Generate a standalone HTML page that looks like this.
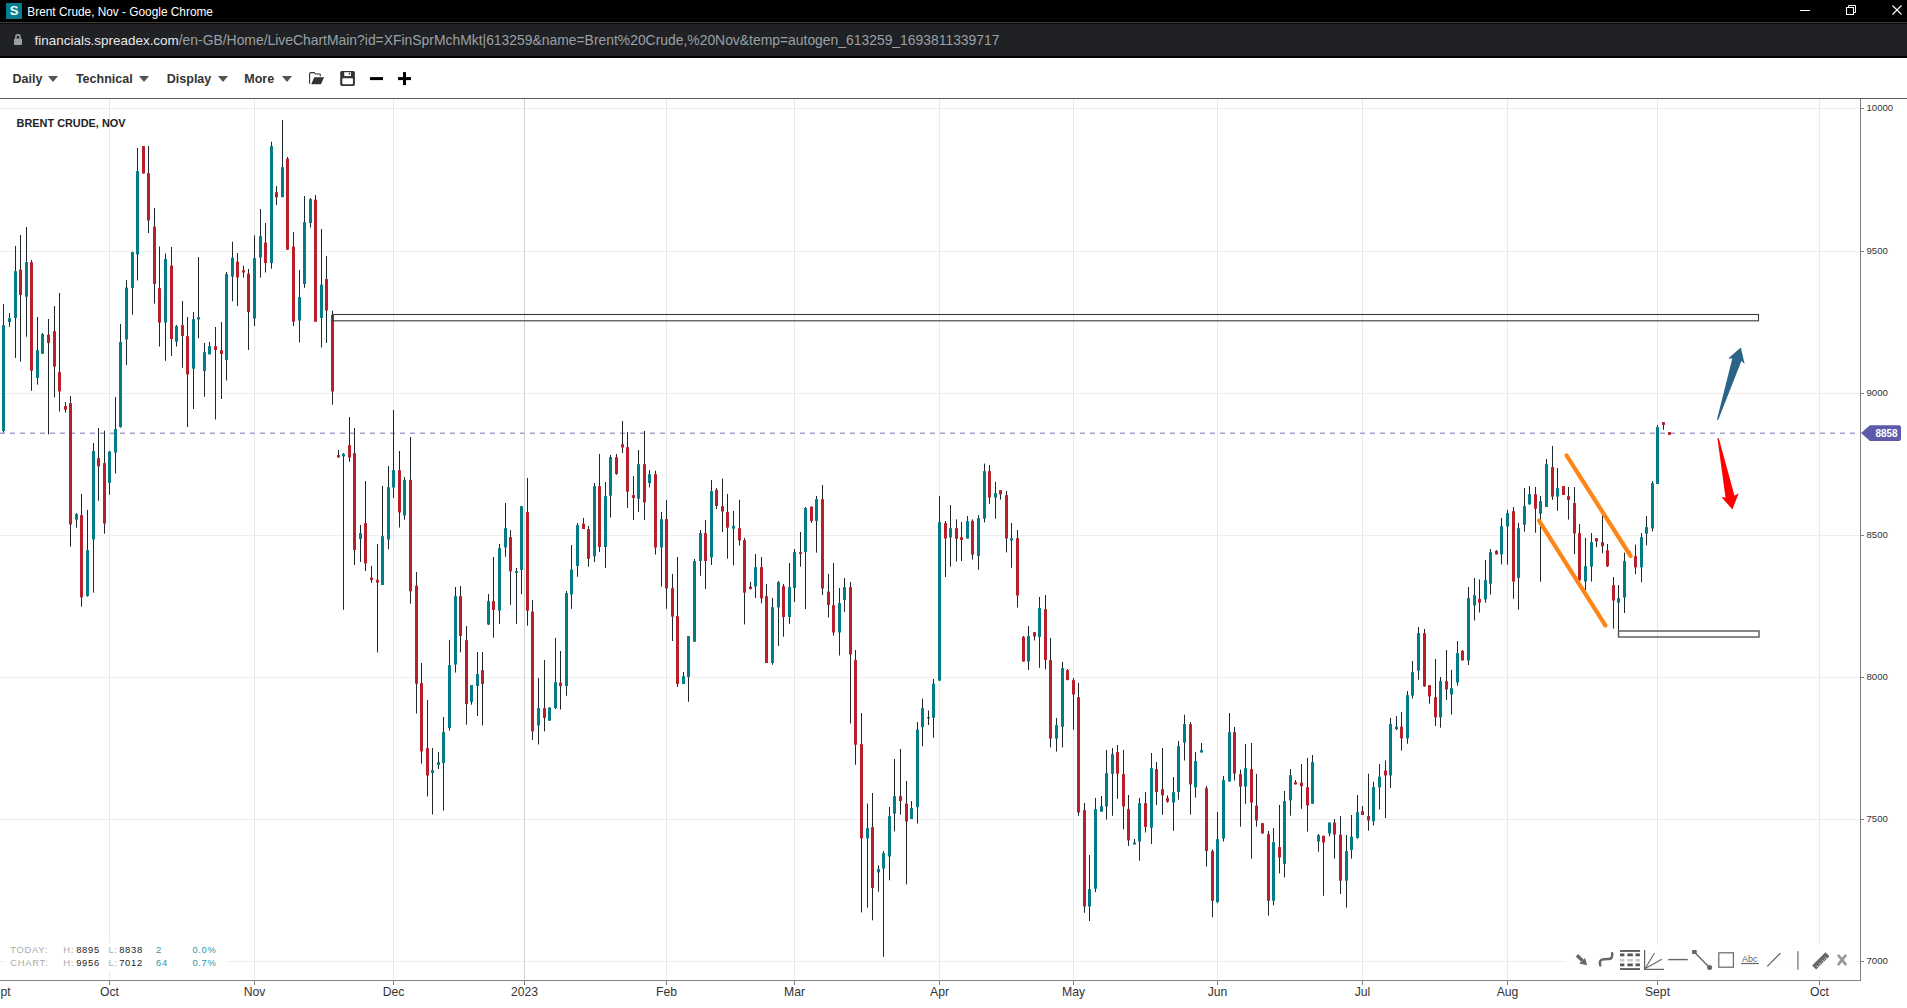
<!DOCTYPE html>
<html><head><meta charset="utf-8"><style>
html,body{margin:0;padding:0;background:#fff;}
body{width:1907px;height:1008px;overflow:hidden;position:relative;font-family:"Liberation Sans",sans-serif;}
.abs{position:absolute;}
#tb{left:0;top:0;width:1907px;height:22px;background:#000;}
#sep{left:0;top:22px;width:1907px;height:1px;background:#3b3b3b;}
#sep2{left:0;top:23px;width:1907px;height:1px;background:#0b0b0c;}
#ab{left:0;top:24px;width:1907px;height:32px;background:#202124;}
#ab2{left:0;top:56px;width:1907px;height:2px;background:#000;}
#ttl{left:27.3px;top:3.5px;color:#fff;font-size:11.85px;line-height:17px;white-space:nowrap;}
#url{left:34.6px;top:30px;color:#9aa0a6;font-size:13.9px;line-height:20px;white-space:nowrap;}
#url b{color:#e8eaed;font-weight:normal;font-size:13.45px;}
.menu{top:71px;font-size:12.5px;font-weight:bold;color:#333;line-height:16px;white-space:nowrap;}
.tri{width:0;height:0;border-left:5px solid transparent;border-right:5px solid transparent;border-top:6px solid #555;top:76.3px;}
svg text.yl{font-size:9.6px;fill:#333;}
svg text.xl{font-size:12.2px;fill:#333;}
svg text.tag{font-size:10px;font-weight:bold;fill:#fff;}
svg text.abc{font-size:9px;fill:#666;}
#title{left:16.6px;top:116.2px;font-size:10.9px;font-weight:bold;color:#222;white-space:nowrap;line-height:14px;}
#stats{left:5px;top:942.8px;width:222px;height:28px;background:#fff;font-size:9.4px;line-height:13.8px;letter-spacing:0.7px;}
#stats span{position:absolute;white-space:nowrap;}
.lb{color:#aaa;} .vl{color:#222;} .tl{color:#2a97ab;}
</style></head><body>
<div class="abs" id="tb"></div>
<div class="abs" id="sep"></div>
<div class="abs" id="sep2"></div>
<div class="abs" id="ab"></div>
<div class="abs" id="ab2"></div>
<div class="abs" style="left:6px;top:3px;width:16px;height:16px;background:#03808e;color:#fff;font-weight:bold;font-size:13px;line-height:16px;text-align:center;">S</div>
<div class="abs" id="ttl">Brent Crude, Nov - Google Chrome</div>
<svg class="abs" style="left:0;top:0" width="1907" height="58">
<rect x="1800" y="10" width="10" height="1" fill="#fff"/>
<rect x="1846.5" y="7.5" width="7" height="7" fill="none" stroke="#fff"/>
<path d="M1848.5,7.5 V5.5 H1855.5 V12.5 H1853.5" fill="none" stroke="#fff"/>
<path d="M1892.5,5.5 L1901.5,14.5 M1901.5,5.5 L1892.5,14.5" stroke="#fff" stroke-width="1.1"/>
<rect x="14" y="38.6" width="8" height="6.4" rx="0.9" fill="#9aa0a6"/>
<path d="M15.9,38.8 V37 a2.1,2.1 0 0 1 4.2,0 V38.8" fill="none" stroke="#9aa0a6" stroke-width="1.6"/>
</svg>
<div class="abs" id="url"><b>financials.spreadex.com</b>/en-GB/Home/LiveChartMain?id=XFinSprMchMkt|613259&amp;name=Brent%20Crude,%20Nov&amp;temp=autogen_613259_1693811339717</div>

<div class="abs menu" style="left:12.6px">Daily</div><div class="abs tri" style="left:48.2px"></div>
<div class="abs menu" style="left:75.9px">Technical</div><div class="abs tri" style="left:139.3px"></div>
<div class="abs menu" style="left:166.8px">Display</div><div class="abs tri" style="left:217.5px"></div>
<div class="abs menu" style="left:244.3px">More</div><div class="abs tri" style="left:281.5px"></div>
<svg class="abs" style="left:0;top:58px" width="430" height="40" viewBox="0 58 430 40">
<path d="M309.6,83.8 V73.6 Q309.6,72.6 310.6,72.6 H314 L315.4,74 H319.6 Q320.3,74 320.3,74.8 V76.2" fill="none" stroke="#333" stroke-width="1.1"/>
<polygon points="311.2,84.3 314.3,77.3 324,77.3 321,84.3" fill="#333"/>
<rect x="340.2" y="71" width="14.7" height="14.9" rx="1.6" fill="#333"/>
<rect x="344.2" y="72.2" width="6.8" height="3.9" fill="#fff"/>
<rect x="348.8" y="72.6" width="1.3" height="2" fill="#333"/>
<rect x="342.3" y="78.3" width="10.6" height="5.9" rx="0.6" fill="#fff"/>
<rect x="370" y="77.1" width="13" height="3" fill="#000"/>
<rect x="398" y="77.1" width="13" height="3" fill="#000"/>
<rect x="403" y="72.1" width="3" height="13" fill="#000"/>
</svg>

<svg class="abs" style="left:0;top:0" width="1907" height="1008">
<rect x="0" y="98" width="1907" height="1" fill="#595959"/>
<rect x="0" y="108" width="1860" height="1" fill="#eeeeee"/>
<rect x="0" y="251" width="1860" height="1" fill="#eeeeee"/>
<rect x="0" y="393" width="1860" height="1" fill="#eeeeee"/>
<rect x="0" y="535" width="1860" height="1" fill="#eeeeee"/>
<rect x="0" y="677" width="1860" height="1" fill="#eeeeee"/>
<rect x="0" y="819" width="1860" height="1" fill="#eeeeee"/>
<rect x="0" y="961" width="1860" height="1" fill="#eeeeee"/>
<rect x="109" y="99" width="1" height="881" fill="#e9e9e9"/>
<rect x="254" y="99" width="1" height="881" fill="#e9e9e9"/>
<rect x="393" y="99" width="1" height="881" fill="#e9e9e9"/>
<rect x="524" y="99" width="1" height="881" fill="#d0d0d0"/>
<rect x="666" y="99" width="1" height="881" fill="#e9e9e9"/>
<rect x="794" y="99" width="1" height="881" fill="#e9e9e9"/>
<rect x="939" y="99" width="1" height="881" fill="#e9e9e9"/>
<rect x="1073" y="99" width="1" height="881" fill="#e9e9e9"/>
<rect x="1217" y="99" width="1" height="881" fill="#e9e9e9"/>
<rect x="1362" y="99" width="1" height="881" fill="#e9e9e9"/>
<rect x="1507" y="99" width="1" height="881" fill="#e9e9e9"/>
<rect x="1657" y="99" width="1" height="881" fill="#e9e9e9"/>
<rect x="1819" y="99" width="1" height="881" fill="#e9e9e9"/>
<line x1="0" y1="433.5" x2="1860" y2="433.5" stroke="#a5a2cf" stroke-width="1" stroke-dasharray="5 5"/><line x1="0" y1="432.5" x2="1860" y2="432.5" stroke="#d4d2ea" stroke-width="1" stroke-dasharray="5 5"/>
<rect x="3" y="304.0" width="1" height="128.5" fill="#1e272b"/>
<rect x="2" y="325.0" width="3" height="106.0" rx="0.6" fill="#037c88"/>
<rect x="9" y="313.0" width="1" height="13.7" fill="#1e272b"/>
<rect x="8" y="318.0" width="3" height="4.0" rx="0.6" fill="#037c88"/>
<rect x="15" y="246.0" width="1" height="112.0" fill="#1e272b"/>
<rect x="14" y="271.0" width="3" height="47.0" rx="0.6" fill="#037c88"/>
<rect x="20" y="235.0" width="1" height="126.7" fill="#1e272b"/>
<rect x="19" y="269.4" width="3" height="25.6" rx="0.6" fill="#b81f2a"/>
<rect x="26" y="227.0" width="1" height="109.7" fill="#1e272b"/>
<rect x="25" y="262.0" width="3" height="34.7" rx="0.6" fill="#037c88"/>
<rect x="31" y="260.0" width="1" height="130.8" fill="#1e272b"/>
<rect x="30" y="262.0" width="3" height="108.8" rx="0.6" fill="#b81f2a"/>
<rect x="37" y="317.0" width="1" height="67.6" fill="#1e272b"/>
<rect x="36" y="350.0" width="3" height="28.0" rx="0.6" fill="#037c88"/>
<rect x="42" y="333.0" width="1" height="20.8" fill="#1e272b"/>
<rect x="41" y="334.0" width="3" height="19.8" rx="0.6" fill="#037c88"/>
<rect x="48" y="319.0" width="1" height="115.3" fill="#1e272b"/>
<rect x="47" y="334.4" width="3" height="8.6" rx="0.6" fill="#b81f2a"/>
<rect x="54" y="306.0" width="1" height="91.5" fill="#1e272b"/>
<rect x="53" y="331.0" width="3" height="35.7" rx="0.6" fill="#b81f2a"/>
<rect x="59" y="293.0" width="1" height="118.5" fill="#1e272b"/>
<rect x="58" y="372.0" width="3" height="19.5" rx="0.6" fill="#b81f2a"/>
<rect x="65" y="402.0" width="1" height="10.6" fill="#1e272b"/>
<rect x="64" y="406.0" width="3" height="3.8" rx="0.6" fill="#b81f2a"/>
<rect x="70" y="396.0" width="1" height="150.7" fill="#1e272b"/>
<rect x="69" y="403.0" width="3" height="121.5" rx="0.6" fill="#b81f2a"/>
<rect x="76" y="513.0" width="1" height="14.6" fill="#1e272b"/>
<rect x="75" y="514.0" width="3" height="5.8" rx="0.6" fill="#037c88"/>
<rect x="81" y="494.0" width="1" height="112.7" fill="#1e272b"/>
<rect x="80" y="515.0" width="3" height="82.4" rx="0.6" fill="#b81f2a"/>
<rect x="87" y="510.0" width="1" height="86.7" fill="#1e272b"/>
<rect x="86" y="550.0" width="3" height="46.0" rx="0.6" fill="#037c88"/>
<rect x="93" y="443.0" width="1" height="149.6" fill="#1e272b"/>
<rect x="92" y="451.0" width="3" height="88.5" rx="0.6" fill="#037c88"/>
<rect x="98" y="428.0" width="1" height="72.7" fill="#1e272b"/>
<rect x="97" y="458.0" width="3" height="8.4" rx="0.6" fill="#b81f2a"/>
<rect x="104" y="430.7" width="1" height="102.9" fill="#1e272b"/>
<rect x="103" y="463.0" width="3" height="60.6" rx="0.6" fill="#b81f2a"/>
<rect x="109" y="451.0" width="1" height="43.8" fill="#1e272b"/>
<rect x="108" y="451.4" width="3" height="31.5" rx="0.6" fill="#037c88"/>
<rect x="115" y="397.0" width="1" height="76.6" fill="#1e272b"/>
<rect x="114" y="429.0" width="3" height="23.6" rx="0.6" fill="#037c88"/>
<rect x="120" y="324.0" width="1" height="103.6" fill="#1e272b"/>
<rect x="119" y="341.7" width="3" height="85.3" rx="0.6" fill="#037c88"/>
<rect x="126" y="280.0" width="1" height="85.0" fill="#1e272b"/>
<rect x="125" y="287.5" width="3" height="52.1" rx="0.6" fill="#037c88"/>
<rect x="132" y="251.7" width="1" height="63.1" fill="#1e272b"/>
<rect x="131" y="252.0" width="3" height="36.0" rx="0.6" fill="#037c88"/>
<rect x="137" y="148.0" width="1" height="132.5" fill="#1e272b"/>
<rect x="136" y="171.0" width="3" height="83.4" rx="0.6" fill="#037c88"/>
<rect x="143" y="146.0" width="1" height="27.5" fill="#1e272b"/>
<rect x="142" y="146.0" width="3" height="27.5" rx="0.6" fill="#b81f2a"/>
<rect x="148" y="146.0" width="1" height="87.0" fill="#1e272b"/>
<rect x="147" y="173.0" width="3" height="47.5" rx="0.6" fill="#b81f2a"/>
<rect x="154" y="208.0" width="1" height="95.6" fill="#1e272b"/>
<rect x="153" y="226.5" width="3" height="57.5" rx="0.6" fill="#b81f2a"/>
<rect x="159" y="246.5" width="1" height="100.0" fill="#1e272b"/>
<rect x="158" y="288.0" width="3" height="34.7" rx="0.6" fill="#b81f2a"/>
<rect x="165" y="253.5" width="1" height="107.3" fill="#1e272b"/>
<rect x="164" y="259.0" width="3" height="63.7" rx="0.6" fill="#037c88"/>
<rect x="171" y="247.0" width="1" height="109.0" fill="#1e272b"/>
<rect x="170" y="265.5" width="3" height="73.5" rx="0.6" fill="#b81f2a"/>
<rect x="176" y="325.0" width="1" height="21.5" fill="#1e272b"/>
<rect x="175" y="326.0" width="3" height="15.7" rx="0.6" fill="#037c88"/>
<rect x="182" y="301.0" width="1" height="66.8" fill="#1e272b"/>
<rect x="181" y="325.0" width="3" height="11.0" rx="0.6" fill="#b81f2a"/>
<rect x="187" y="317.0" width="1" height="110.0" fill="#1e272b"/>
<rect x="186" y="336.0" width="3" height="38.4" rx="0.6" fill="#b81f2a"/>
<rect x="193" y="312.0" width="1" height="97.0" fill="#1e272b"/>
<rect x="192" y="319.0" width="3" height="49.7" rx="0.6" fill="#037c88"/>
<rect x="198" y="257.0" width="1" height="81.0" fill="#1e272b"/>
<rect x="197" y="317.0" width="3" height="2.5" rx="0.6" fill="#037c88"/>
<rect x="204" y="343.0" width="1" height="53.7" fill="#1e272b"/>
<rect x="203" y="352.0" width="3" height="19.0" rx="0.6" fill="#037c88"/>
<rect x="209" y="342.0" width="1" height="12.0" fill="#1e272b"/>
<rect x="208" y="346.0" width="3" height="8.4" rx="0.6" fill="#037c88"/>
<rect x="215" y="327.0" width="1" height="92.5" fill="#1e272b"/>
<rect x="214" y="346.0" width="3" height="4.0" rx="0.6" fill="#b81f2a"/>
<rect x="221" y="322.0" width="1" height="77.0" fill="#1e272b"/>
<rect x="220" y="350.0" width="3" height="4.0" rx="0.6" fill="#b81f2a"/>
<rect x="226" y="272.0" width="1" height="108.5" fill="#1e272b"/>
<rect x="225" y="274.0" width="3" height="86.0" rx="0.6" fill="#037c88"/>
<rect x="232" y="241.7" width="1" height="59.7" fill="#1e272b"/>
<rect x="231" y="257.6" width="3" height="19.1" rx="0.6" fill="#037c88"/>
<rect x="237" y="253.0" width="1" height="53.0" fill="#1e272b"/>
<rect x="236" y="261.4" width="3" height="16.2" rx="0.6" fill="#b81f2a"/>
<rect x="243" y="265.5" width="1" height="12.1" fill="#1e272b"/>
<rect x="242" y="270.0" width="3" height="2.5" rx="0.6" fill="#b81f2a"/>
<rect x="248" y="269.0" width="1" height="81.0" fill="#1e272b"/>
<rect x="247" y="273.5" width="3" height="38.5" rx="0.6" fill="#b81f2a"/>
<rect x="254" y="235.4" width="1" height="90.6" fill="#1e272b"/>
<rect x="253" y="258.0" width="3" height="60.6" rx="0.6" fill="#037c88"/>
<rect x="260" y="209.0" width="1" height="68.6" fill="#1e272b"/>
<rect x="259" y="236.0" width="3" height="21.6" rx="0.6" fill="#037c88"/>
<rect x="265" y="223.0" width="1" height="49.5" fill="#1e272b"/>
<rect x="264" y="242.4" width="3" height="20.6" rx="0.6" fill="#b81f2a"/>
<rect x="271" y="141.7" width="1" height="127.0" fill="#1e272b"/>
<rect x="270" y="146.0" width="3" height="117.0" rx="0.6" fill="#037c88"/>
<rect x="276" y="186.0" width="1" height="19.0" fill="#1e272b"/>
<rect x="275" y="192.0" width="3" height="5.3" rx="0.6" fill="#b81f2a"/>
<rect x="282" y="120.0" width="1" height="77.0" fill="#1e272b"/>
<rect x="281" y="167.0" width="3" height="30.3" rx="0.6" fill="#037c88"/>
<rect x="287" y="157.0" width="1" height="92.7" fill="#1e272b"/>
<rect x="286" y="158.6" width="3" height="91.1" rx="0.6" fill="#b81f2a"/>
<rect x="293" y="232.0" width="1" height="94.0" fill="#1e272b"/>
<rect x="292" y="246.5" width="3" height="75.2" rx="0.6" fill="#b81f2a"/>
<rect x="299" y="270.0" width="1" height="72.4" fill="#1e272b"/>
<rect x="298" y="297.0" width="3" height="23.5" rx="0.6" fill="#037c88"/>
<rect x="304" y="196.0" width="1" height="91.8" fill="#1e272b"/>
<rect x="303" y="222.0" width="3" height="62.0" rx="0.6" fill="#037c88"/>
<rect x="310" y="198.0" width="1" height="29.5" fill="#1e272b"/>
<rect x="309" y="199.0" width="3" height="24.0" rx="0.6" fill="#037c88"/>
<rect x="315" y="195.0" width="1" height="126.7" fill="#1e272b"/>
<rect x="314" y="199.5" width="3" height="122.2" rx="0.6" fill="#b81f2a"/>
<rect x="321" y="229.0" width="1" height="118.5" fill="#1e272b"/>
<rect x="320" y="284.6" width="3" height="33.4" rx="0.6" fill="#037c88"/>
<rect x="326" y="256.0" width="1" height="87.0" fill="#1e272b"/>
<rect x="325" y="279.0" width="3" height="31.6" rx="0.6" fill="#b81f2a"/>
<rect x="332" y="310.6" width="1" height="94.0" fill="#1e272b"/>
<rect x="331" y="314.8" width="3" height="76.8" rx="0.6" fill="#b81f2a"/>
<rect x="338" y="450.0" width="1" height="7.6" fill="#1e272b"/>
<rect x="337" y="455.0" width="3" height="2.6" rx="0.6" fill="#b81f2a"/>
<rect x="343" y="453.0" width="1" height="156.8" fill="#1e272b"/>
<rect x="342" y="453.7" width="3" height="2.8" rx="0.6" fill="#037c88"/>
<rect x="349" y="417.0" width="1" height="44.7" fill="#1e272b"/>
<rect x="348" y="445.0" width="3" height="12.6" rx="0.6" fill="#b81f2a"/>
<rect x="354" y="428.0" width="1" height="137.0" fill="#1e272b"/>
<rect x="353" y="453.0" width="3" height="97.0" rx="0.6" fill="#b81f2a"/>
<rect x="360" y="525.0" width="1" height="37.0" fill="#1e272b"/>
<rect x="359" y="533.0" width="3" height="6.0" rx="0.6" fill="#037c88"/>
<rect x="365" y="481.0" width="1" height="90.0" fill="#1e272b"/>
<rect x="364" y="523.0" width="3" height="40.6" rx="0.6" fill="#b81f2a"/>
<rect x="371" y="566.0" width="1" height="16.7" fill="#1e272b"/>
<rect x="370" y="577.5" width="3" height="2.5" rx="0.6" fill="#b81f2a"/>
<rect x="377" y="544.0" width="1" height="108.4" fill="#1e272b"/>
<rect x="376" y="579.6" width="3" height="3.1" rx="0.6" fill="#b81f2a"/>
<rect x="382" y="486.0" width="1" height="99.0" fill="#1e272b"/>
<rect x="381" y="536.0" width="3" height="49.0" rx="0.6" fill="#037c88"/>
<rect x="388" y="466.0" width="1" height="83.4" fill="#1e272b"/>
<rect x="387" y="487.0" width="3" height="52.6" rx="0.6" fill="#037c88"/>
<rect x="393" y="410.0" width="1" height="88.0" fill="#1e272b"/>
<rect x="392" y="470.0" width="3" height="17.5" rx="0.6" fill="#037c88"/>
<rect x="399" y="451.0" width="1" height="76.5" fill="#1e272b"/>
<rect x="398" y="470.0" width="3" height="42.5" rx="0.6" fill="#b81f2a"/>
<rect x="404" y="477.0" width="1" height="42.7" fill="#1e272b"/>
<rect x="403" y="479.8" width="3" height="35.8" rx="0.6" fill="#037c88"/>
<rect x="410" y="437.0" width="1" height="166.7" fill="#1e272b"/>
<rect x="409" y="479.8" width="3" height="111.5" rx="0.6" fill="#b81f2a"/>
<rect x="416" y="572.0" width="1" height="141.5" fill="#1e272b"/>
<rect x="415" y="585.4" width="3" height="98.4" rx="0.6" fill="#b81f2a"/>
<rect x="421" y="663.0" width="1" height="100.6" fill="#1e272b"/>
<rect x="420" y="683.0" width="3" height="68.5" rx="0.6" fill="#b81f2a"/>
<rect x="427" y="700.0" width="1" height="96.5" fill="#1e272b"/>
<rect x="426" y="748.0" width="3" height="27.6" rx="0.6" fill="#b81f2a"/>
<rect x="432" y="748.0" width="1" height="66.5" fill="#1e272b"/>
<rect x="431" y="770.0" width="3" height="3.0" rx="0.6" fill="#037c88"/>
<rect x="438" y="752.0" width="1" height="17.0" fill="#1e272b"/>
<rect x="437" y="762.0" width="3" height="3.0" rx="0.6" fill="#037c88"/>
<rect x="443" y="717.0" width="1" height="93.5" fill="#1e272b"/>
<rect x="442" y="732.0" width="3" height="31.0" rx="0.6" fill="#037c88"/>
<rect x="449" y="640.0" width="1" height="90.6" fill="#1e272b"/>
<rect x="448" y="665.0" width="3" height="63.0" rx="0.6" fill="#037c88"/>
<rect x="455" y="587.0" width="1" height="85.5" fill="#1e272b"/>
<rect x="454" y="596.0" width="3" height="68.5" rx="0.6" fill="#037c88"/>
<rect x="460" y="586.0" width="1" height="66.4" fill="#1e272b"/>
<rect x="459" y="596.0" width="3" height="40.0" rx="0.6" fill="#b81f2a"/>
<rect x="466" y="626.0" width="1" height="98.7" fill="#1e272b"/>
<rect x="465" y="640.0" width="3" height="64.0" rx="0.6" fill="#b81f2a"/>
<rect x="471" y="685.0" width="1" height="19.7" fill="#1e272b"/>
<rect x="470" y="685.0" width="3" height="17.0" rx="0.6" fill="#037c88"/>
<rect x="477" y="652.0" width="1" height="64.0" fill="#1e272b"/>
<rect x="476" y="674.0" width="3" height="12.0" rx="0.6" fill="#037c88"/>
<rect x="482" y="652.0" width="1" height="73.5" fill="#1e272b"/>
<rect x="481" y="670.0" width="3" height="14.0" rx="0.6" fill="#b81f2a"/>
<rect x="488" y="594.0" width="1" height="31.0" fill="#1e272b"/>
<rect x="487" y="601.0" width="3" height="23.5" rx="0.6" fill="#037c88"/>
<rect x="493" y="557.0" width="1" height="80.7" fill="#1e272b"/>
<rect x="492" y="601.0" width="3" height="9.0" rx="0.6" fill="#b81f2a"/>
<rect x="499" y="544.0" width="1" height="80.0" fill="#1e272b"/>
<rect x="498" y="548.0" width="3" height="62.7" rx="0.6" fill="#037c88"/>
<rect x="505" y="503.0" width="1" height="53.7" fill="#1e272b"/>
<rect x="504" y="528.0" width="3" height="19.6" rx="0.6" fill="#037c88"/>
<rect x="510" y="530.0" width="1" height="74.8" fill="#1e272b"/>
<rect x="509" y="537.0" width="3" height="34.4" rx="0.6" fill="#b81f2a"/>
<rect x="516" y="568.0" width="1" height="56.0" fill="#1e272b"/>
<rect x="515" y="571.0" width="3" height="2.0" rx="0.6" fill="#037c88"/>
<rect x="521" y="506.0" width="1" height="88.0" fill="#1e272b"/>
<rect x="520" y="506.0" width="3" height="64.0" rx="0.6" fill="#037c88"/>
<rect x="527" y="478.0" width="1" height="147.7" fill="#1e272b"/>
<rect x="526" y="512.0" width="3" height="98.7" rx="0.6" fill="#b81f2a"/>
<rect x="532" y="600.0" width="1" height="140.0" fill="#1e272b"/>
<rect x="531" y="611.4" width="3" height="120.0" rx="0.6" fill="#b81f2a"/>
<rect x="538" y="678.0" width="1" height="66.5" fill="#1e272b"/>
<rect x="537" y="708.0" width="3" height="17.5" rx="0.6" fill="#037c88"/>
<rect x="544" y="660.0" width="1" height="71.4" fill="#1e272b"/>
<rect x="543" y="708.0" width="3" height="10.0" rx="0.6" fill="#b81f2a"/>
<rect x="549" y="707.0" width="1" height="13.7" fill="#1e272b"/>
<rect x="548" y="707.6" width="3" height="13.1" rx="0.6" fill="#037c88"/>
<rect x="555" y="638.0" width="1" height="71.0" fill="#1e272b"/>
<rect x="554" y="682.0" width="3" height="26.0" rx="0.6" fill="#037c88"/>
<rect x="560" y="651.0" width="1" height="58.5" fill="#1e272b"/>
<rect x="559" y="682.6" width="3" height="3.4" rx="0.6" fill="#b81f2a"/>
<rect x="566" y="591.0" width="1" height="104.7" fill="#1e272b"/>
<rect x="565" y="593.0" width="3" height="93.0" rx="0.6" fill="#037c88"/>
<rect x="571" y="545.0" width="1" height="63.8" fill="#1e272b"/>
<rect x="570" y="569.5" width="3" height="25.0" rx="0.6" fill="#037c88"/>
<rect x="577" y="523.0" width="1" height="53.7" fill="#1e272b"/>
<rect x="576" y="525.0" width="3" height="41.0" rx="0.6" fill="#037c88"/>
<rect x="583" y="518.0" width="1" height="11.0" fill="#1e272b"/>
<rect x="582" y="523.6" width="3" height="5.4" rx="0.6" fill="#b81f2a"/>
<rect x="588" y="526.0" width="1" height="40.7" fill="#1e272b"/>
<rect x="587" y="529.0" width="3" height="29.8" rx="0.6" fill="#b81f2a"/>
<rect x="594" y="483.0" width="1" height="79.0" fill="#1e272b"/>
<rect x="593" y="486.0" width="3" height="70.4" rx="0.6" fill="#037c88"/>
<rect x="599" y="454.0" width="1" height="98.0" fill="#1e272b"/>
<rect x="598" y="486.0" width="3" height="61.0" rx="0.6" fill="#b81f2a"/>
<rect x="605" y="482.0" width="1" height="86.0" fill="#1e272b"/>
<rect x="604" y="496.0" width="3" height="51.0" rx="0.6" fill="#037c88"/>
<rect x="610" y="455.0" width="1" height="62.6" fill="#1e272b"/>
<rect x="609" y="457.0" width="3" height="38.7" rx="0.6" fill="#037c88"/>
<rect x="616" y="454.0" width="1" height="20.8" fill="#1e272b"/>
<rect x="615" y="457.0" width="3" height="17.0" rx="0.6" fill="#b81f2a"/>
<rect x="622" y="421.0" width="1" height="32.0" fill="#1e272b"/>
<rect x="621" y="444.0" width="3" height="3.6" rx="0.6" fill="#b81f2a"/>
<rect x="627" y="432.0" width="1" height="76.0" fill="#1e272b"/>
<rect x="626" y="447.0" width="3" height="44.7" rx="0.6" fill="#b81f2a"/>
<rect x="633" y="476.0" width="1" height="44.0" fill="#1e272b"/>
<rect x="632" y="495.0" width="3" height="3.0" rx="0.6" fill="#b81f2a"/>
<rect x="638" y="450.0" width="1" height="62.0" fill="#1e272b"/>
<rect x="637" y="464.0" width="3" height="34.8" rx="0.6" fill="#037c88"/>
<rect x="644" y="431.0" width="1" height="89.0" fill="#1e272b"/>
<rect x="643" y="464.0" width="3" height="38.4" rx="0.6" fill="#b81f2a"/>
<rect x="649" y="470.0" width="1" height="17.4" fill="#1e272b"/>
<rect x="648" y="474.0" width="3" height="9.0" rx="0.6" fill="#037c88"/>
<rect x="655" y="470.7" width="1" height="83.8" fill="#1e272b"/>
<rect x="654" y="474.0" width="3" height="73.6" rx="0.6" fill="#b81f2a"/>
<rect x="661" y="512.0" width="1" height="74.7" fill="#1e272b"/>
<rect x="660" y="519.0" width="3" height="28.6" rx="0.6" fill="#037c88"/>
<rect x="666" y="500.0" width="1" height="108.8" fill="#1e272b"/>
<rect x="665" y="519.0" width="3" height="69.6" rx="0.6" fill="#b81f2a"/>
<rect x="672" y="574.0" width="1" height="67.0" fill="#1e272b"/>
<rect x="671" y="588.0" width="3" height="28.7" rx="0.6" fill="#b81f2a"/>
<rect x="677" y="557.0" width="1" height="130.0" fill="#1e272b"/>
<rect x="676" y="616.0" width="3" height="68.0" rx="0.6" fill="#b81f2a"/>
<rect x="683" y="672.0" width="1" height="12.0" fill="#1e272b"/>
<rect x="682" y="676.0" width="3" height="8.0" rx="0.6" fill="#037c88"/>
<rect x="688" y="636.0" width="1" height="65.8" fill="#1e272b"/>
<rect x="687" y="636.0" width="3" height="41.0" rx="0.6" fill="#037c88"/>
<rect x="694" y="559.0" width="1" height="82.8" fill="#1e272b"/>
<rect x="693" y="561.0" width="3" height="80.8" rx="0.6" fill="#037c88"/>
<rect x="700" y="530.0" width="1" height="45.8" fill="#1e272b"/>
<rect x="699" y="533.0" width="3" height="28.0" rx="0.6" fill="#037c88"/>
<rect x="705" y="520.0" width="1" height="69.0" fill="#1e272b"/>
<rect x="704" y="533.0" width="3" height="28.0" rx="0.6" fill="#b81f2a"/>
<rect x="711" y="480.0" width="1" height="85.0" fill="#1e272b"/>
<rect x="710" y="491.0" width="3" height="66.5" rx="0.6" fill="#037c88"/>
<rect x="716" y="488.0" width="1" height="21.0" fill="#1e272b"/>
<rect x="715" y="489.8" width="3" height="16.2" rx="0.6" fill="#b81f2a"/>
<rect x="722" y="478.6" width="1" height="53.4" fill="#1e272b"/>
<rect x="721" y="506.0" width="3" height="5.6" rx="0.6" fill="#b81f2a"/>
<rect x="727" y="494.0" width="1" height="64.7" fill="#1e272b"/>
<rect x="726" y="512.0" width="3" height="15.7" rx="0.6" fill="#b81f2a"/>
<rect x="733" y="511.0" width="1" height="54.4" fill="#1e272b"/>
<rect x="732" y="525.7" width="3" height="3.0" rx="0.6" fill="#037c88"/>
<rect x="739" y="499.7" width="1" height="45.9" fill="#1e272b"/>
<rect x="738" y="528.0" width="3" height="12.6" rx="0.6" fill="#b81f2a"/>
<rect x="744" y="538.0" width="1" height="86.4" fill="#1e272b"/>
<rect x="743" y="540.0" width="3" height="52.7" rx="0.6" fill="#b81f2a"/>
<rect x="750" y="582.0" width="1" height="7.5" fill="#1e272b"/>
<rect x="749" y="586.5" width="3" height="2.5" rx="0.6" fill="#b81f2a"/>
<rect x="755" y="554.0" width="1" height="44.0" fill="#1e272b"/>
<rect x="754" y="567.0" width="3" height="19.5" rx="0.6" fill="#037c88"/>
<rect x="761" y="557.0" width="1" height="46.4" fill="#1e272b"/>
<rect x="760" y="567.0" width="3" height="31.4" rx="0.6" fill="#b81f2a"/>
<rect x="766" y="584.0" width="1" height="79.0" fill="#1e272b"/>
<rect x="765" y="596.0" width="3" height="67.0" rx="0.6" fill="#b81f2a"/>
<rect x="772" y="598.0" width="1" height="66.7" fill="#1e272b"/>
<rect x="771" y="607.0" width="3" height="56.0" rx="0.6" fill="#037c88"/>
<rect x="778" y="581.0" width="1" height="65.0" fill="#1e272b"/>
<rect x="777" y="582.0" width="3" height="25.6" rx="0.6" fill="#037c88"/>
<rect x="783" y="584.0" width="1" height="52.7" fill="#1e272b"/>
<rect x="782" y="586.0" width="3" height="31.0" rx="0.6" fill="#b81f2a"/>
<rect x="789" y="563.0" width="1" height="60.8" fill="#1e272b"/>
<rect x="788" y="587.0" width="3" height="30.0" rx="0.6" fill="#037c88"/>
<rect x="794" y="549.0" width="1" height="53.0" fill="#1e272b"/>
<rect x="793" y="552.0" width="3" height="36.0" rx="0.6" fill="#037c88"/>
<rect x="800" y="532.0" width="1" height="34.7" fill="#1e272b"/>
<rect x="799" y="552.0" width="3" height="2.0" rx="0.6" fill="#b81f2a"/>
<rect x="805" y="507.0" width="1" height="102.0" fill="#1e272b"/>
<rect x="804" y="508.0" width="3" height="44.0" rx="0.6" fill="#037c88"/>
<rect x="811" y="506.5" width="1" height="16.3" fill="#1e272b"/>
<rect x="810" y="506.5" width="3" height="14.5" rx="0.6" fill="#b81f2a"/>
<rect x="816" y="496.0" width="1" height="56.6" fill="#1e272b"/>
<rect x="815" y="499.0" width="3" height="22.0" rx="0.6" fill="#037c88"/>
<rect x="822" y="485.0" width="1" height="110.0" fill="#1e272b"/>
<rect x="821" y="499.0" width="3" height="89.5" rx="0.6" fill="#b81f2a"/>
<rect x="828" y="574.0" width="1" height="43.6" fill="#1e272b"/>
<rect x="827" y="591.5" width="3" height="13.5" rx="0.6" fill="#b81f2a"/>
<rect x="833" y="563.0" width="1" height="72.7" fill="#1e272b"/>
<rect x="832" y="605.0" width="3" height="27.5" rx="0.6" fill="#b81f2a"/>
<rect x="839" y="588.0" width="1" height="67.5" fill="#1e272b"/>
<rect x="838" y="603.0" width="3" height="29.5" rx="0.6" fill="#037c88"/>
<rect x="844" y="578.0" width="1" height="33.9" fill="#1e272b"/>
<rect x="843" y="587.0" width="3" height="13.0" rx="0.6" fill="#037c88"/>
<rect x="850" y="582.0" width="1" height="141.5" fill="#1e272b"/>
<rect x="849" y="587.0" width="3" height="67.5" rx="0.6" fill="#b81f2a"/>
<rect x="855" y="650.0" width="1" height="114.8" fill="#1e272b"/>
<rect x="854" y="660.0" width="3" height="84.8" rx="0.6" fill="#b81f2a"/>
<rect x="861" y="713.0" width="1" height="199.4" fill="#1e272b"/>
<rect x="860" y="744.0" width="3" height="94.4" rx="0.6" fill="#b81f2a"/>
<rect x="867" y="803.5" width="1" height="104.1" fill="#1e272b"/>
<rect x="866" y="828.0" width="3" height="10.4" rx="0.6" fill="#037c88"/>
<rect x="872" y="793.0" width="1" height="127.3" fill="#1e272b"/>
<rect x="871" y="827.0" width="3" height="61.0" rx="0.6" fill="#b81f2a"/>
<rect x="878" y="865.4" width="1" height="26.3" fill="#1e272b"/>
<rect x="877" y="869.0" width="3" height="3.4" rx="0.6" fill="#037c88"/>
<rect x="883" y="851.0" width="1" height="105.8" fill="#1e272b"/>
<rect x="882" y="853.0" width="3" height="15.6" rx="0.6" fill="#037c88"/>
<rect x="889" y="807.0" width="1" height="73.3" fill="#1e272b"/>
<rect x="888" y="816.0" width="3" height="40.5" rx="0.6" fill="#037c88"/>
<rect x="894" y="759.0" width="1" height="72.4" fill="#1e272b"/>
<rect x="893" y="796.0" width="3" height="17.7" rx="0.6" fill="#037c88"/>
<rect x="900" y="749.0" width="1" height="65.6" fill="#1e272b"/>
<rect x="899" y="796.0" width="3" height="5.0" rx="0.6" fill="#b81f2a"/>
<rect x="906" y="781.0" width="1" height="103.4" fill="#1e272b"/>
<rect x="905" y="803.5" width="3" height="18.1" rx="0.6" fill="#b81f2a"/>
<rect x="911" y="801.0" width="1" height="18.0" fill="#1e272b"/>
<rect x="910" y="808.0" width="3" height="11.0" rx="0.6" fill="#037c88"/>
<rect x="917" y="722.0" width="1" height="101.5" fill="#1e272b"/>
<rect x="916" y="729.5" width="3" height="77.8" rx="0.6" fill="#037c88"/>
<rect x="922" y="698.7" width="1" height="47.6" fill="#1e272b"/>
<rect x="921" y="708.0" width="3" height="19.3" rx="0.6" fill="#037c88"/>
<rect x="928" y="710.5" width="1" height="14.5" fill="#1e272b"/>
<rect x="927" y="717.3" width="3" height="1" fill="#1e272b"/>
<rect x="933" y="679.0" width="1" height="58.8" fill="#1e272b"/>
<rect x="932" y="683.5" width="3" height="34.3" rx="0.6" fill="#037c88"/>
<rect x="939" y="496.0" width="1" height="184.7" fill="#1e272b"/>
<rect x="938" y="522.0" width="3" height="158.7" rx="0.6" fill="#037c88"/>
<rect x="945" y="521.0" width="1" height="56.0" fill="#1e272b"/>
<rect x="944" y="523.0" width="3" height="15.5" rx="0.6" fill="#b81f2a"/>
<rect x="950" y="505.0" width="1" height="61.6" fill="#1e272b"/>
<rect x="949" y="528.0" width="3" height="9.5" rx="0.6" fill="#037c88"/>
<rect x="956" y="519.4" width="1" height="42.2" fill="#1e272b"/>
<rect x="955" y="528.0" width="3" height="10.8" rx="0.6" fill="#b81f2a"/>
<rect x="961" y="522.0" width="1" height="39.0" fill="#1e272b"/>
<rect x="960" y="537.0" width="3" height="3.0" rx="0.6" fill="#b81f2a"/>
<rect x="967" y="516.0" width="1" height="22.5" fill="#1e272b"/>
<rect x="966" y="521.0" width="3" height="17.5" rx="0.6" fill="#037c88"/>
<rect x="972" y="519.4" width="1" height="40.2" fill="#1e272b"/>
<rect x="971" y="520.7" width="3" height="34.0" rx="0.6" fill="#b81f2a"/>
<rect x="978" y="515.0" width="1" height="54.8" fill="#1e272b"/>
<rect x="977" y="518.0" width="3" height="38.0" rx="0.6" fill="#037c88"/>
<rect x="984" y="463.6" width="1" height="58.8" fill="#1e272b"/>
<rect x="983" y="471.0" width="3" height="47.7" rx="0.6" fill="#037c88"/>
<rect x="989" y="465.0" width="1" height="38.8" fill="#1e272b"/>
<rect x="988" y="471.0" width="3" height="26.6" rx="0.6" fill="#b81f2a"/>
<rect x="995" y="481.7" width="1" height="37.0" fill="#1e272b"/>
<rect x="994" y="493.0" width="3" height="4.6" rx="0.6" fill="#037c88"/>
<rect x="1000" y="490.0" width="1" height="9.6" fill="#1e272b"/>
<rect x="999" y="490.0" width="3" height="4.6" rx="0.6" fill="#b81f2a"/>
<rect x="1006" y="491.0" width="1" height="61.4" fill="#1e272b"/>
<rect x="1005" y="495.0" width="3" height="43.5" rx="0.6" fill="#b81f2a"/>
<rect x="1011" y="523.0" width="1" height="44.8" fill="#1e272b"/>
<rect x="1010" y="538.0" width="3" height="2.5" rx="0.6" fill="#037c88"/>
<rect x="1017" y="530.0" width="1" height="77.5" fill="#1e272b"/>
<rect x="1016" y="538.0" width="3" height="57.6" rx="0.6" fill="#b81f2a"/>
<rect x="1023" y="636.0" width="1" height="25.6" fill="#1e272b"/>
<rect x="1022" y="636.8" width="3" height="24.8" rx="0.6" fill="#b81f2a"/>
<rect x="1028" y="626.0" width="1" height="44.0" fill="#1e272b"/>
<rect x="1027" y="636.0" width="3" height="25.6" rx="0.6" fill="#037c88"/>
<rect x="1034" y="632.0" width="1" height="8.5" fill="#1e272b"/>
<rect x="1033" y="632.0" width="3" height="4.5" rx="0.6" fill="#b81f2a"/>
<rect x="1039" y="597.0" width="1" height="70.8" fill="#1e272b"/>
<rect x="1038" y="608.0" width="3" height="29.0" rx="0.6" fill="#037c88"/>
<rect x="1045" y="595.0" width="1" height="74.3" fill="#1e272b"/>
<rect x="1044" y="609.0" width="3" height="51.0" rx="0.6" fill="#b81f2a"/>
<rect x="1050" y="638.0" width="1" height="109.4" fill="#1e272b"/>
<rect x="1049" y="660.0" width="3" height="78.7" rx="0.6" fill="#b81f2a"/>
<rect x="1056" y="718.0" width="1" height="33.6" fill="#1e272b"/>
<rect x="1055" y="725.0" width="3" height="13.7" rx="0.6" fill="#037c88"/>
<rect x="1062" y="662.0" width="1" height="85.4" fill="#1e272b"/>
<rect x="1061" y="668.0" width="3" height="58.8" rx="0.6" fill="#037c88"/>
<rect x="1067" y="669.0" width="1" height="11.4" fill="#1e272b"/>
<rect x="1066" y="670.0" width="3" height="10.0" rx="0.6" fill="#b81f2a"/>
<rect x="1073" y="678.0" width="1" height="51.6" fill="#1e272b"/>
<rect x="1072" y="680.0" width="3" height="14.6" rx="0.6" fill="#b81f2a"/>
<rect x="1078" y="683.0" width="1" height="132.8" fill="#1e272b"/>
<rect x="1077" y="697.0" width="3" height="115.5" rx="0.6" fill="#b81f2a"/>
<rect x="1084" y="803.0" width="1" height="109.7" fill="#1e272b"/>
<rect x="1083" y="810.0" width="3" height="96.5" rx="0.6" fill="#b81f2a"/>
<rect x="1089" y="855.0" width="1" height="66.0" fill="#1e272b"/>
<rect x="1088" y="889.0" width="3" height="17.5" rx="0.6" fill="#037c88"/>
<rect x="1095" y="798.0" width="1" height="94.0" fill="#1e272b"/>
<rect x="1094" y="809.0" width="3" height="79.8" rx="0.6" fill="#037c88"/>
<rect x="1101" y="796.0" width="1" height="15.7" fill="#1e272b"/>
<rect x="1100" y="806.0" width="3" height="5.7" rx="0.6" fill="#037c88"/>
<rect x="1106" y="750.0" width="1" height="69.6" fill="#1e272b"/>
<rect x="1105" y="773.0" width="3" height="33.5" rx="0.6" fill="#037c88"/>
<rect x="1112" y="748.0" width="1" height="67.8" fill="#1e272b"/>
<rect x="1111" y="754.0" width="3" height="19.8" rx="0.6" fill="#037c88"/>
<rect x="1117" y="745.0" width="1" height="53.8" fill="#1e272b"/>
<rect x="1116" y="752.0" width="3" height="21.8" rx="0.6" fill="#b81f2a"/>
<rect x="1123" y="750.0" width="1" height="79.4" fill="#1e272b"/>
<rect x="1122" y="774.0" width="3" height="32.5" rx="0.6" fill="#b81f2a"/>
<rect x="1128" y="795.0" width="1" height="51.0" fill="#1e272b"/>
<rect x="1127" y="809.0" width="3" height="31.4" rx="0.6" fill="#b81f2a"/>
<rect x="1134" y="839.0" width="1" height="5.4" fill="#1e272b"/>
<rect x="1133" y="842.3" width="3" height="2.1" rx="0.6" fill="#037c88"/>
<rect x="1139" y="798.0" width="1" height="62.6" fill="#1e272b"/>
<rect x="1138" y="803.0" width="3" height="38.5" rx="0.6" fill="#037c88"/>
<rect x="1145" y="792.0" width="1" height="40.5" fill="#1e272b"/>
<rect x="1144" y="803.0" width="3" height="24.0" rx="0.6" fill="#b81f2a"/>
<rect x="1151" y="753.0" width="1" height="91.0" fill="#1e272b"/>
<rect x="1150" y="768.0" width="3" height="59.7" rx="0.6" fill="#037c88"/>
<rect x="1156" y="762.0" width="1" height="43.0" fill="#1e272b"/>
<rect x="1155" y="769.0" width="3" height="23.0" rx="0.6" fill="#b81f2a"/>
<rect x="1162" y="748.0" width="1" height="66.8" fill="#1e272b"/>
<rect x="1161" y="789.0" width="3" height="6.4" rx="0.6" fill="#b81f2a"/>
<rect x="1167" y="795.4" width="1" height="7.3" fill="#1e272b"/>
<rect x="1166" y="798.0" width="3" height="3.7" rx="0.6" fill="#b81f2a"/>
<rect x="1173" y="777.0" width="1" height="53.8" fill="#1e272b"/>
<rect x="1172" y="792.0" width="3" height="10.7" rx="0.6" fill="#037c88"/>
<rect x="1178" y="741.0" width="1" height="58.7" fill="#1e272b"/>
<rect x="1177" y="746.0" width="3" height="46.0" rx="0.6" fill="#037c88"/>
<rect x="1184" y="714.8" width="1" height="45.7" fill="#1e272b"/>
<rect x="1183" y="724.0" width="3" height="18.7" rx="0.6" fill="#037c88"/>
<rect x="1190" y="722.0" width="1" height="92.5" fill="#1e272b"/>
<rect x="1189" y="724.0" width="3" height="60.4" rx="0.6" fill="#b81f2a"/>
<rect x="1195" y="752.0" width="1" height="45.6" fill="#1e272b"/>
<rect x="1194" y="761.0" width="3" height="26.4" rx="0.6" fill="#037c88"/>
<rect x="1201" y="743.0" width="1" height="9.5" fill="#1e272b"/>
<rect x="1200" y="750.0" width="3" height="2.5" rx="0.6" fill="#037c88"/>
<rect x="1206" y="786.0" width="1" height="80.5" fill="#1e272b"/>
<rect x="1205" y="788.0" width="3" height="63.0" rx="0.6" fill="#b81f2a"/>
<rect x="1212" y="849.4" width="1" height="68.0" fill="#1e272b"/>
<rect x="1211" y="851.0" width="3" height="49.8" rx="0.6" fill="#b81f2a"/>
<rect x="1217" y="812.0" width="1" height="91.0" fill="#1e272b"/>
<rect x="1216" y="839.0" width="3" height="63.0" rx="0.6" fill="#037c88"/>
<rect x="1223" y="776.0" width="1" height="65.5" fill="#1e272b"/>
<rect x="1222" y="780.0" width="3" height="58.5" rx="0.6" fill="#037c88"/>
<rect x="1229" y="713.0" width="1" height="68.5" fill="#1e272b"/>
<rect x="1228" y="732.0" width="3" height="49.5" rx="0.6" fill="#037c88"/>
<rect x="1234" y="727.0" width="1" height="53.5" fill="#1e272b"/>
<rect x="1233" y="732.0" width="3" height="41.7" rx="0.6" fill="#b81f2a"/>
<rect x="1240" y="769.6" width="1" height="57.0" fill="#1e272b"/>
<rect x="1239" y="774.0" width="3" height="12.7" rx="0.6" fill="#b81f2a"/>
<rect x="1245" y="744.0" width="1" height="59.8" fill="#1e272b"/>
<rect x="1244" y="768.0" width="3" height="18.7" rx="0.6" fill="#037c88"/>
<rect x="1251" y="743.0" width="1" height="115.6" fill="#1e272b"/>
<rect x="1250" y="769.0" width="3" height="33.7" rx="0.6" fill="#b81f2a"/>
<rect x="1256" y="774.0" width="1" height="52.6" fill="#1e272b"/>
<rect x="1255" y="805.4" width="3" height="15.1" rx="0.6" fill="#b81f2a"/>
<rect x="1262" y="823.0" width="1" height="10.5" fill="#1e272b"/>
<rect x="1261" y="823.0" width="3" height="10.5" rx="0.6" fill="#b81f2a"/>
<rect x="1268" y="831.0" width="1" height="84.6" fill="#1e272b"/>
<rect x="1267" y="834.0" width="3" height="66.8" rx="0.6" fill="#b81f2a"/>
<rect x="1273" y="828.0" width="1" height="77.3" fill="#1e272b"/>
<rect x="1272" y="842.0" width="3" height="58.8" rx="0.6" fill="#037c88"/>
<rect x="1279" y="805.0" width="1" height="68.4" fill="#1e272b"/>
<rect x="1278" y="847.0" width="3" height="10.4" rx="0.6" fill="#b81f2a"/>
<rect x="1284" y="791.0" width="1" height="86.5" fill="#1e272b"/>
<rect x="1283" y="801.0" width="3" height="63.0" rx="0.6" fill="#037c88"/>
<rect x="1290" y="769.0" width="1" height="46.7" fill="#1e272b"/>
<rect x="1289" y="775.0" width="3" height="25.4" rx="0.6" fill="#037c88"/>
<rect x="1295" y="780.0" width="1" height="4.4" fill="#1e272b"/>
<rect x="1294" y="782.0" width="3" height="2.4" rx="0.6" fill="#b81f2a"/>
<rect x="1301" y="764.0" width="1" height="44.8" fill="#1e272b"/>
<rect x="1300" y="782.6" width="3" height="3.6" rx="0.6" fill="#b81f2a"/>
<rect x="1307" y="758.0" width="1" height="73.6" fill="#1e272b"/>
<rect x="1306" y="787.0" width="3" height="18.4" rx="0.6" fill="#b81f2a"/>
<rect x="1312" y="755.0" width="1" height="48.8" fill="#1e272b"/>
<rect x="1311" y="762.0" width="3" height="41.8" rx="0.6" fill="#037c88"/>
<rect x="1318" y="834.0" width="1" height="17.7" fill="#1e272b"/>
<rect x="1317" y="835.0" width="3" height="6.5" rx="0.6" fill="#037c88"/>
<rect x="1323" y="835.7" width="1" height="60.1" fill="#1e272b"/>
<rect x="1322" y="835.7" width="3" height="6.9" rx="0.6" fill="#b81f2a"/>
<rect x="1329" y="822.5" width="1" height="13.9" fill="#1e272b"/>
<rect x="1328" y="822.5" width="3" height="11.0" rx="0.6" fill="#037c88"/>
<rect x="1334" y="819.0" width="1" height="39.6" fill="#1e272b"/>
<rect x="1333" y="822.5" width="3" height="12.1" rx="0.6" fill="#b81f2a"/>
<rect x="1340" y="816.0" width="1" height="78.0" fill="#1e272b"/>
<rect x="1339" y="834.6" width="3" height="46.1" rx="0.6" fill="#b81f2a"/>
<rect x="1346" y="835.0" width="1" height="72.6" fill="#1e272b"/>
<rect x="1345" y="851.0" width="3" height="29.7" rx="0.6" fill="#037c88"/>
<rect x="1351" y="815.0" width="1" height="43.6" fill="#1e272b"/>
<rect x="1350" y="836.4" width="3" height="13.6" rx="0.6" fill="#037c88"/>
<rect x="1357" y="795.0" width="1" height="43.7" fill="#1e272b"/>
<rect x="1356" y="812.0" width="3" height="26.0" rx="0.6" fill="#037c88"/>
<rect x="1362" y="806.0" width="1" height="9.0" fill="#1e272b"/>
<rect x="1361" y="811.0" width="3" height="4.0" rx="0.6" fill="#b81f2a"/>
<rect x="1368" y="773.7" width="1" height="57.0" fill="#1e272b"/>
<rect x="1367" y="816.0" width="3" height="4.5" rx="0.6" fill="#b81f2a"/>
<rect x="1373" y="781.7" width="1" height="43.8" fill="#1e272b"/>
<rect x="1372" y="787.0" width="3" height="34.4" rx="0.6" fill="#037c88"/>
<rect x="1379" y="764.0" width="1" height="45.5" fill="#1e272b"/>
<rect x="1378" y="776.4" width="3" height="11.0" rx="0.6" fill="#037c88"/>
<rect x="1385" y="760.5" width="1" height="57.5" fill="#1e272b"/>
<rect x="1384" y="770.5" width="3" height="5.0" rx="0.6" fill="#b81f2a"/>
<rect x="1390" y="718.0" width="1" height="70.0" fill="#1e272b"/>
<rect x="1389" y="723.8" width="3" height="51.8" rx="0.6" fill="#037c88"/>
<rect x="1396" y="716.0" width="1" height="14.0" fill="#1e272b"/>
<rect x="1395" y="726.5" width="3" height="2.8" rx="0.6" fill="#037c88"/>
<rect x="1401" y="712.0" width="1" height="38.5" fill="#1e272b"/>
<rect x="1400" y="726.5" width="3" height="11.9" rx="0.6" fill="#b81f2a"/>
<rect x="1407" y="691.0" width="1" height="52.7" fill="#1e272b"/>
<rect x="1406" y="695.0" width="3" height="43.4" rx="0.6" fill="#037c88"/>
<rect x="1412" y="661.0" width="1" height="37.5" fill="#1e272b"/>
<rect x="1411" y="672.0" width="3" height="23.8" rx="0.6" fill="#037c88"/>
<rect x="1418" y="627.0" width="1" height="52.8" fill="#1e272b"/>
<rect x="1417" y="633.0" width="3" height="37.7" rx="0.6" fill="#037c88"/>
<rect x="1424" y="629.0" width="1" height="57.6" fill="#1e272b"/>
<rect x="1423" y="633.0" width="3" height="53.6" rx="0.6" fill="#b81f2a"/>
<rect x="1429" y="685.0" width="1" height="18.7" fill="#1e272b"/>
<rect x="1428" y="685.0" width="3" height="11.4" rx="0.6" fill="#b81f2a"/>
<rect x="1435" y="659.0" width="1" height="67.0" fill="#1e272b"/>
<rect x="1434" y="697.0" width="3" height="20.4" rx="0.6" fill="#b81f2a"/>
<rect x="1440" y="677.0" width="1" height="50.7" fill="#1e272b"/>
<rect x="1439" y="681.0" width="3" height="36.4" rx="0.6" fill="#037c88"/>
<rect x="1446" y="650.0" width="1" height="50.0" fill="#1e272b"/>
<rect x="1445" y="681.0" width="3" height="8.6" rx="0.6" fill="#b81f2a"/>
<rect x="1451" y="670.0" width="1" height="44.5" fill="#1e272b"/>
<rect x="1450" y="688.0" width="3" height="6.6" rx="0.6" fill="#037c88"/>
<rect x="1457" y="641.0" width="1" height="44.5" fill="#1e272b"/>
<rect x="1456" y="653.0" width="3" height="29.5" rx="0.6" fill="#037c88"/>
<rect x="1462" y="650.0" width="1" height="10.4" fill="#1e272b"/>
<rect x="1461" y="650.8" width="3" height="9.6" rx="0.6" fill="#b81f2a"/>
<rect x="1468" y="587.0" width="1" height="78.0" fill="#1e272b"/>
<rect x="1467" y="598.0" width="3" height="62.4" rx="0.6" fill="#037c88"/>
<rect x="1474" y="578.0" width="1" height="42.5" fill="#1e272b"/>
<rect x="1473" y="595.0" width="3" height="10.6" rx="0.6" fill="#037c88"/>
<rect x="1479" y="579.4" width="1" height="33.1" fill="#1e272b"/>
<rect x="1478" y="598.8" width="3" height="3.9" rx="0.6" fill="#b81f2a"/>
<rect x="1485" y="560.0" width="1" height="42.7" fill="#1e272b"/>
<rect x="1484" y="580.0" width="3" height="19.5" rx="0.6" fill="#037c88"/>
<rect x="1490" y="549.0" width="1" height="45.6" fill="#1e272b"/>
<rect x="1489" y="552.0" width="3" height="31.8" rx="0.6" fill="#037c88"/>
<rect x="1496" y="550.0" width="1" height="4.4" fill="#1e272b"/>
<rect x="1495" y="550.8" width="3" height="3.6" rx="0.6" fill="#b81f2a"/>
<rect x="1501" y="518.0" width="1" height="46.4" fill="#1e272b"/>
<rect x="1500" y="526.0" width="3" height="28.6" rx="0.6" fill="#037c88"/>
<rect x="1507" y="510.0" width="1" height="54.6" fill="#1e272b"/>
<rect x="1506" y="513.0" width="3" height="13.5" rx="0.6" fill="#037c88"/>
<rect x="1513" y="507.0" width="1" height="91.8" fill="#1e272b"/>
<rect x="1512" y="511.0" width="3" height="70.5" rx="0.6" fill="#b81f2a"/>
<rect x="1518" y="523.0" width="1" height="86.6" fill="#1e272b"/>
<rect x="1517" y="528.0" width="3" height="50.0" rx="0.6" fill="#037c88"/>
<rect x="1524" y="488.0" width="1" height="43.7" fill="#1e272b"/>
<rect x="1523" y="506.0" width="3" height="18.8" rx="0.6" fill="#037c88"/>
<rect x="1529" y="486.0" width="1" height="18.4" fill="#1e272b"/>
<rect x="1528" y="494.0" width="3" height="10.4" rx="0.6" fill="#037c88"/>
<rect x="1535" y="487.0" width="1" height="45.7" fill="#1e272b"/>
<rect x="1534" y="494.0" width="3" height="14.8" rx="0.6" fill="#b81f2a"/>
<rect x="1540" y="496.0" width="1" height="85.7" fill="#1e272b"/>
<rect x="1539" y="501.0" width="3" height="12.8" rx="0.6" fill="#037c88"/>
<rect x="1546" y="459.0" width="1" height="48.0" fill="#1e272b"/>
<rect x="1545" y="464.0" width="3" height="43.0" rx="0.6" fill="#037c88"/>
<rect x="1552" y="446.0" width="1" height="53.8" fill="#1e272b"/>
<rect x="1551" y="467.0" width="3" height="29.7" rx="0.6" fill="#b81f2a"/>
<rect x="1557" y="468.0" width="1" height="42.8" fill="#1e272b"/>
<rect x="1556" y="488.0" width="3" height="8.7" rx="0.6" fill="#037c88"/>
<rect x="1563" y="486.0" width="1" height="9.0" fill="#1e272b"/>
<rect x="1562" y="486.0" width="3" height="9.0" rx="0.6" fill="#b81f2a"/>
<rect x="1568" y="487.0" width="1" height="32.6" fill="#1e272b"/>
<rect x="1567" y="496.0" width="3" height="4.0" rx="0.6" fill="#b81f2a"/>
<rect x="1574" y="487.0" width="1" height="67.0" fill="#1e272b"/>
<rect x="1573" y="503.0" width="3" height="30.5" rx="0.6" fill="#b81f2a"/>
<rect x="1579" y="524.0" width="1" height="56.4" fill="#1e272b"/>
<rect x="1578" y="533.0" width="3" height="47.4" rx="0.6" fill="#b81f2a"/>
<rect x="1585" y="538.0" width="1" height="52.0" fill="#1e272b"/>
<rect x="1584" y="566.0" width="3" height="15.5" rx="0.6" fill="#037c88"/>
<rect x="1591" y="533.0" width="1" height="48.6" fill="#1e272b"/>
<rect x="1590" y="542.0" width="3" height="24.7" rx="0.6" fill="#037c88"/>
<rect x="1596" y="538.0" width="1" height="9.3" fill="#1e272b"/>
<rect x="1595" y="538.0" width="3" height="3.6" rx="0.6" fill="#b81f2a"/>
<rect x="1602" y="515.4" width="1" height="37.9" fill="#1e272b"/>
<rect x="1601" y="542.0" width="3" height="4.4" rx="0.6" fill="#b81f2a"/>
<rect x="1607" y="544.0" width="1" height="23.0" fill="#1e272b"/>
<rect x="1606" y="550.3" width="3" height="16.0" rx="0.6" fill="#b81f2a"/>
<rect x="1613" y="577.0" width="1" height="51.6" fill="#1e272b"/>
<rect x="1612" y="585.0" width="3" height="15.5" rx="0.6" fill="#b81f2a"/>
<rect x="1618" y="585.0" width="1" height="52.0" fill="#1e272b"/>
<rect x="1617" y="598.0" width="3" height="4.8" rx="0.6" fill="#037c88"/>
<rect x="1624" y="552.6" width="1" height="60.4" fill="#1e272b"/>
<rect x="1623" y="561.0" width="3" height="36.5" rx="0.6" fill="#037c88"/>
<rect x="1630" y="551.5" width="1" height="5.5" fill="#1e272b"/>
<rect x="1629" y="555.0" width="3" height="2.0" rx="0.6" fill="#b81f2a"/>
<rect x="1635" y="544.6" width="1" height="29.7" fill="#1e272b"/>
<rect x="1634" y="556.0" width="3" height="11.4" rx="0.6" fill="#b81f2a"/>
<rect x="1641" y="533.0" width="1" height="49.3" fill="#1e272b"/>
<rect x="1640" y="537.0" width="3" height="30.4" rx="0.6" fill="#037c88"/>
<rect x="1646" y="516.0" width="1" height="29.3" fill="#1e272b"/>
<rect x="1645" y="527.0" width="3" height="6.7" rx="0.6" fill="#037c88"/>
<rect x="1652" y="481.0" width="1" height="50.4" fill="#1e272b"/>
<rect x="1651" y="483.0" width="3" height="45.6" rx="0.6" fill="#037c88"/>
<rect x="1657" y="424.8" width="1" height="59.2" fill="#1e272b"/>
<rect x="1656" y="427.0" width="3" height="57.0" rx="0.6" fill="#037c88"/>
<rect x="1663" y="422.5" width="1" height="7.3" fill="#1e272b"/>
<rect x="1662" y="422.1" width="3" height="2.8" rx="0.6" fill="#b81f2a"/>
<rect x="1669" y="432.1" width="1" height="2.8" fill="#1e272b"/>
<rect x="1668" y="432.1" width="3" height="2.8" rx="0.6" fill="#b81f2a"/>

<rect x="332.5" y="314.5" width="1426" height="6.3" fill="none" stroke="#3a3a3a" stroke-width="1.1"/>
<rect x="1618.5" y="631" width="140.5" height="6" fill="none" stroke="#555" stroke-width="1.4"/>
<line x1="1566.5" y1="455.4" x2="1630.6" y2="556" stroke="#ff8517" stroke-width="4.2" stroke-linecap="round"/>
<line x1="1539" y1="520.6" x2="1605.5" y2="625.6" stroke="#ff8517" stroke-width="4.2" stroke-linecap="round"/>
<polygon points="1716.9,419.8 1732.3,358.5 1728.2,358.4 1740.8,347.4 1744.6,363.8 1741.4,361.1 1718.3,419.8" fill="#2a6487"/>
<polygon points="1717.4,438.3 1725.5,497.4 1721.4,497 1732.4,509.6 1738.7,493.2 1734.5,495.7 1718.8,438.3" fill="#ff0000"/>

<path d="M1861,433 L1870,425.2 L1899,425.2 Q1901,425.2 1901,427.2 L1901,439 Q1901,441 1899,441 L1870,441 Z" fill="#5e5baa"/>
<text x="1886.5" y="436.8" text-anchor="middle" class="tag">8858</text>
<rect x="1860" y="99" width="1" height="882" fill="#808080"/>
<rect x="0" y="980" width="1861" height="1" fill="#808080"/>
<rect x="1861" y="108" width="3" height="1" fill="#808080"/>
<text x="1866.5" y="111.1" class="yl">10000</text>
<rect x="1861" y="251" width="3" height="1" fill="#808080"/>
<text x="1866.5" y="254.1" class="yl">9500</text>
<rect x="1861" y="393" width="3" height="1" fill="#808080"/>
<text x="1866.5" y="396.1" class="yl">9000</text>
<rect x="1861" y="535" width="3" height="1" fill="#808080"/>
<text x="1866.5" y="538.1" class="yl">8500</text>
<rect x="1861" y="677" width="3" height="1" fill="#808080"/>
<text x="1866.5" y="680.1" class="yl">8000</text>
<rect x="1861" y="819" width="3" height="1" fill="#808080"/>
<text x="1866.5" y="822.1" class="yl">7500</text>
<rect x="1861" y="961" width="3" height="1" fill="#808080"/>
<text x="1866.5" y="964.1" class="yl">7000</text>
<rect x="109" y="981" width="1" height="4" fill="#808080"/>
<text x="109.5" y="996" class="xl" text-anchor="middle">Oct</text>
<rect x="254" y="981" width="1" height="4" fill="#808080"/>
<text x="254.5" y="996" class="xl" text-anchor="middle">Nov</text>
<rect x="393" y="981" width="1" height="4" fill="#808080"/>
<text x="393.5" y="996" class="xl" text-anchor="middle">Dec</text>
<rect x="524" y="981" width="1" height="4" fill="#808080"/>
<text x="524.5" y="996" class="xl" text-anchor="middle">2023</text>
<rect x="666" y="981" width="1" height="4" fill="#808080"/>
<text x="666.5" y="996" class="xl" text-anchor="middle">Feb</text>
<rect x="794" y="981" width="1" height="4" fill="#808080"/>
<text x="794.5" y="996" class="xl" text-anchor="middle">Mar</text>
<rect x="939" y="981" width="1" height="4" fill="#808080"/>
<text x="939.5" y="996" class="xl" text-anchor="middle">Apr</text>
<rect x="1073" y="981" width="1" height="4" fill="#808080"/>
<text x="1073.5" y="996" class="xl" text-anchor="middle">May</text>
<rect x="1217" y="981" width="1" height="4" fill="#808080"/>
<text x="1217.5" y="996" class="xl" text-anchor="middle">Jun</text>
<rect x="1362" y="981" width="1" height="4" fill="#808080"/>
<text x="1362.5" y="996" class="xl" text-anchor="middle">Jul</text>
<rect x="1507" y="981" width="1" height="4" fill="#808080"/>
<text x="1507.5" y="996" class="xl" text-anchor="middle">Aug</text>
<rect x="1657" y="981" width="1" height="4" fill="#808080"/>
<text x="1657.5" y="996" class="xl" text-anchor="middle">Sept</text>
<rect x="1819" y="981" width="1" height="4" fill="#808080"/>
<text x="1819.5" y="996" class="xl" text-anchor="middle">Oct</text>
<text x="-2" y="996" class="xl" text-anchor="middle">Sept</text>
<rect x="1566" y="944" width="289" height="32" fill="#fff" fill-opacity="0.92"/>
<g fill="none" stroke="#666">
<path d="M1577,955.3 L1582.3,960.6" stroke-width="3.4"/>
<polygon points="1587.1,965.3 1579.2,963.5 1585.1,958.1" fill="#666" stroke="none"/>
<path d="M1600.3,965.3 C1599.3,962 1599.8,959.4 1604,959.2 L1608.5,959.1 C1611.5,959 1612.4,957.5 1612.2,953.2" stroke-width="2.5" stroke-linecap="round"/>
<rect x="1620" y="950" width="20" height="1.9" fill="#5c5c5c" stroke="none"/>
<rect x="1620" y="968.1" width="20" height="1.9" fill="#5c5c5c" stroke="none"/>
<path d="M1620,954.9 h4.4 M1627.4,954.9 h5.4 M1635.5,954.9 h4.4 M1620,964.9 h4.4 M1627.4,964.9 h5.4 M1635.5,964.9 h4.4" stroke="#555" stroke-width="2.6"/>
<path d="M1620,960.3 h4.4 M1627.4,960.3 h5.4 M1635.5,960.3 h4.4" stroke="#c8c8c8" stroke-width="2.6"/>
<path d="M1644.6,950 V969.3 H1664" stroke-width="1.3"/>
<path d="M1645,968.8 L1654.5,953 M1645,968.8 L1661.8,959.2" stroke-width="1.1"/>
<path d="M1668.2,959.6 H1687.8" stroke-width="1.4"/>
<path d="M1694.5,952.2 L1709.5,967.5" stroke-width="1.4"/>
<rect x="1692.1" y="950.1" width="4.6" height="3.9" rx="0.6" fill="#666" stroke="none"/>
<circle cx="1709.6" cy="967.4" r="2.5" fill="#666" stroke="none"/>
<rect x="1718.8" y="952.8" width="14.6" height="14.4" stroke-width="1.2"/>
<path d="M1741.2,963.5 H1759" stroke-width="1.2"/>
<path d="M1767.2,966.4 L1780.4,953.2" stroke-width="1.3"/>
<path d="M1797.9,951.3 V969.7" stroke="#888" stroke-width="1.5"/>
<g transform="translate(1820.8,960.8) rotate(-45)">
<rect x="-9.4" y="-2.85" width="18.8" height="5.7" fill="#666" stroke="none"/>
<path d="M-6.5,2.9 v-2.4 M-4.5,2.9 v-1.4 M-2.5,2.9 v-2.4 M-0.5,2.9 v-1.4 M1.5,2.9 v-2.4 M3.5,2.9 v-1.4 M5.5,2.9 v-2.4" stroke="#fff" stroke-width="0.8"/>
</g>
<path d="M1838.6,955.7 L1845.5,964.2 M1845.5,955.7 L1838.6,964.2" stroke="#999" stroke-width="2.7" stroke-linecap="round"/>
</g>
<text x="1742" y="961.7" class="abc">Abc</text>
</svg>
<div class="abs" id="title">BRENT CRUDE, NOV</div>
<div class="abs" id="stats">
<span class="lb" style="left:5.3px;top:0">TODAY:</span>
<span class="lb" style="left:58.3px;top:0">H:</span><span class="vl" style="left:71.2px;top:0">8895</span>
<span class="lb" style="left:103.6px;top:0">L:</span><span class="vl" style="left:114.2px;top:0">8838</span>
<span class="tl" style="left:151px;top:0">2</span>
<span class="tl" style="left:187.4px;top:0">0.0%</span>
<span class="lb" style="left:5.3px;top:13.7px">CHART:</span>
<span class="lb" style="left:58.3px;top:13.7px">H:</span><span class="vl" style="left:71.2px;top:13.7px">9956</span>
<span class="lb" style="left:103.6px;top:13.7px">L:</span><span class="vl" style="left:114.2px;top:13.7px">7012</span>
<span class="tl" style="left:151px;top:13.7px">64</span>
<span class="tl" style="left:187.4px;top:13.7px">0.7%</span>
</div>
</body></html>
